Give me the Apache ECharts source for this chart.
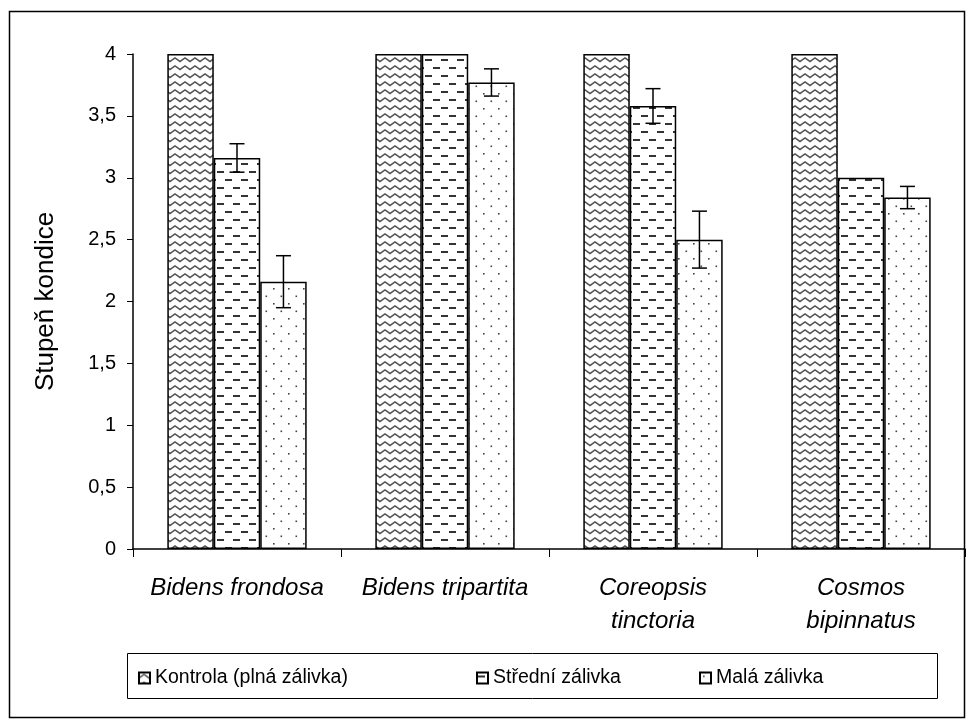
<!DOCTYPE html>
<html>
<head>
<meta charset="utf-8">
<script src="https://cdn.jsdelivr.net/npm/echarts@6/dist/echarts.min.js"></script>
<style>html,body{margin:0;padding:0;background:#fff;}#c{width:973px;height:724px;}</style>
</head>
<body>
<div id="c"></div>
<script>
const categories = ['Bidens frondosa', 'Bidens tripartita', 'Coreopsis\ntinctoria', 'Cosmos\nbipinnatus'];
const seriesNames = ['Kontrola (plná zálivka)', 'Střední zálivka', 'Malá zálivka'];
const kontrola = [4, 4, 4, 4];
const stredni = [3.16, 4, 3.58, 3.0];
const mala = [2.16, 3.77, 2.5, 2.84];
const kontrolaErr = [0, 0, 0, 0];
const stredniErr = [0.115, 0, 0.14, 0];
const malaErr = [0.21, 0.11, 0.23, 0.09];
const yTicks = [0, 0.5, 1, 1.5, 2, 2.5, 3, 3.5, 4];

function tile(w, h, draw) {
  const c = document.createElement('canvas');
  c.width = w; c.height = h;
  const ctx = c.getContext('2d');
  ctx.fillStyle = '#fff';
  ctx.fillRect(0, 0, w, h);
  draw(ctx);
  return c;
}
const zig = tile(10, 8, ctx => {
  ctx.strokeStyle = '#555'; ctx.lineWidth = 1.5;
  ctx.beginPath();
  ctx.moveTo(-5, 2); ctx.lineTo(0, 5.5); ctx.lineTo(5, 2); ctx.lineTo(10, 5.5); ctx.lineTo(15, 2);
  ctx.stroke();
});
const dash = tile(16, 16, ctx => {
  ctx.fillStyle = '#333';
  ctx.fillRect(1, 3, 7, 2);
  ctx.fillRect(9, 11, 7, 2);
});
const dots = tile(15, 15, ctx => {
  ctx.fillStyle = '#444';
  ctx.fillRect(3, 3, 1.6, 1.6);
  ctx.fillRect(10.5, 10.5, 1.6, 1.6);
});
const patterns = [zig, dash, dots];
const values = [kontrola, stredni, mala];
const errs = [kontrolaErr, stredniErr, malaErr];
const gapFrac = 0.33;

const chart = echarts.init(document.getElementById('c'), null, {renderer: 'canvas'});
const series = [];
values.forEach((v, k) => {
  series.push({
    name: seriesNames[k], type: 'bar', data: v,
    barGap: '0%', barCategoryGap: (gapFrac * 100) + '%',
    itemStyle: {color: {image: patterns[k], repeat: 'repeat'}, borderColor: '#000', borderWidth: 1.5},
    emphasis: {disabled: true}, animation: false
  });
});
[1, 2].forEach(k => {
  const data = values[k].map((v, i) => [i, v - errs[k][i], v + errs[k][i]]).filter((d, i) => errs[k][i] > 0);
  series.push({
    type: 'custom', data: data, encode: {x: 0, y: [1, 2]}, z: 10, silent: true, animation: false,
    renderItem: function (params, api) {
      const cat = api.value(0);
      const lo = api.coord([cat, api.value(1)]);
      const hi = api.coord([cat, api.value(2)]);
      const band = api.size([1, 0])[0];
      const bw = band * (1 - gapFrac) / 3;
      const x = lo[0] + (k - 1) * bw;
      const hw = 7.5;
      const st = {stroke: '#000', lineWidth: 1.5};
      return {type: 'group', children: [
        {type: 'line', shape: {x1: x, y1: lo[1], x2: x, y2: hi[1]}, style: st},
        {type: 'line', shape: {x1: x - hw, y1: lo[1], x2: x + hw, y2: lo[1]}, style: st},
        {type: 'line', shape: {x1: x - hw, y1: hi[1], x2: x + hw, y2: hi[1]}, style: st}
      ]};
    }
  });
});

const legendFont = {fontFamily: 'Liberation Sans', fontSize: 19.5, color: '#000'};
const legendLeft = [138, 476, 699];
chart.setOption({
  backgroundColor: '#fff',
  animation: false,
  graphic: [
    {type: 'rect', shape: {x: 9.5, y: 11.5, width: 955, height: 706}, style: {fill: 'none', stroke: '#000', lineWidth: 1.5}, z: -1},
    {type: 'rect', shape: {x: 127.5, y: 653.5, width: 810, height: 45}, style: {fill: '#fff', stroke: '#000', lineWidth: 1}, z: 0}
  ],
  legend: seriesNames.map((n, i) => ({
    data: [n], left: legendLeft[i], top: 668, itemWidth: 11, itemHeight: 11, itemGap: 6,
    icon: 'rect', textStyle: legendFont, padding: 0, selectedMode: false
  })),
  grid: {left: 133, top: 54, width: 832, height: 495, containLabel: false},
  xAxis: {
    type: 'category', data: categories,
    axisLine: {lineStyle: {color: '#000', width: 1.5}},
    axisTick: {show: true, length: 8, lineStyle: {color: '#000', width: 1}},
    axisLabel: {color: '#000', fontFamily: 'Liberation Sans', fontStyle: 'italic', fontSize: 24, lineHeight: 33, margin: 23, interval: 0}
  },
  yAxis: {
    type: 'value', min: 0, max: 4, interval: 0.5,
    name: 'Stupeň kondice', nameLocation: 'middle', nameGap: 74, nameRotate: 90,
    nameTextStyle: {color: '#000', fontFamily: 'Liberation Sans', fontSize: 26},
    axisLine: {show: true, lineStyle: {color: '#000', width: 1.5}},
    axisTick: {show: true, length: 6, lineStyle: {color: '#000', width: 1}},
    splitLine: {show: false},
    axisLabel: {color: '#000', fontFamily: 'Liberation Sans', fontSize: 20, margin: 17,
      formatter: v => String(v).replace('.', ',')}
  },
  series: series
});
</script>
</body>
</html>
